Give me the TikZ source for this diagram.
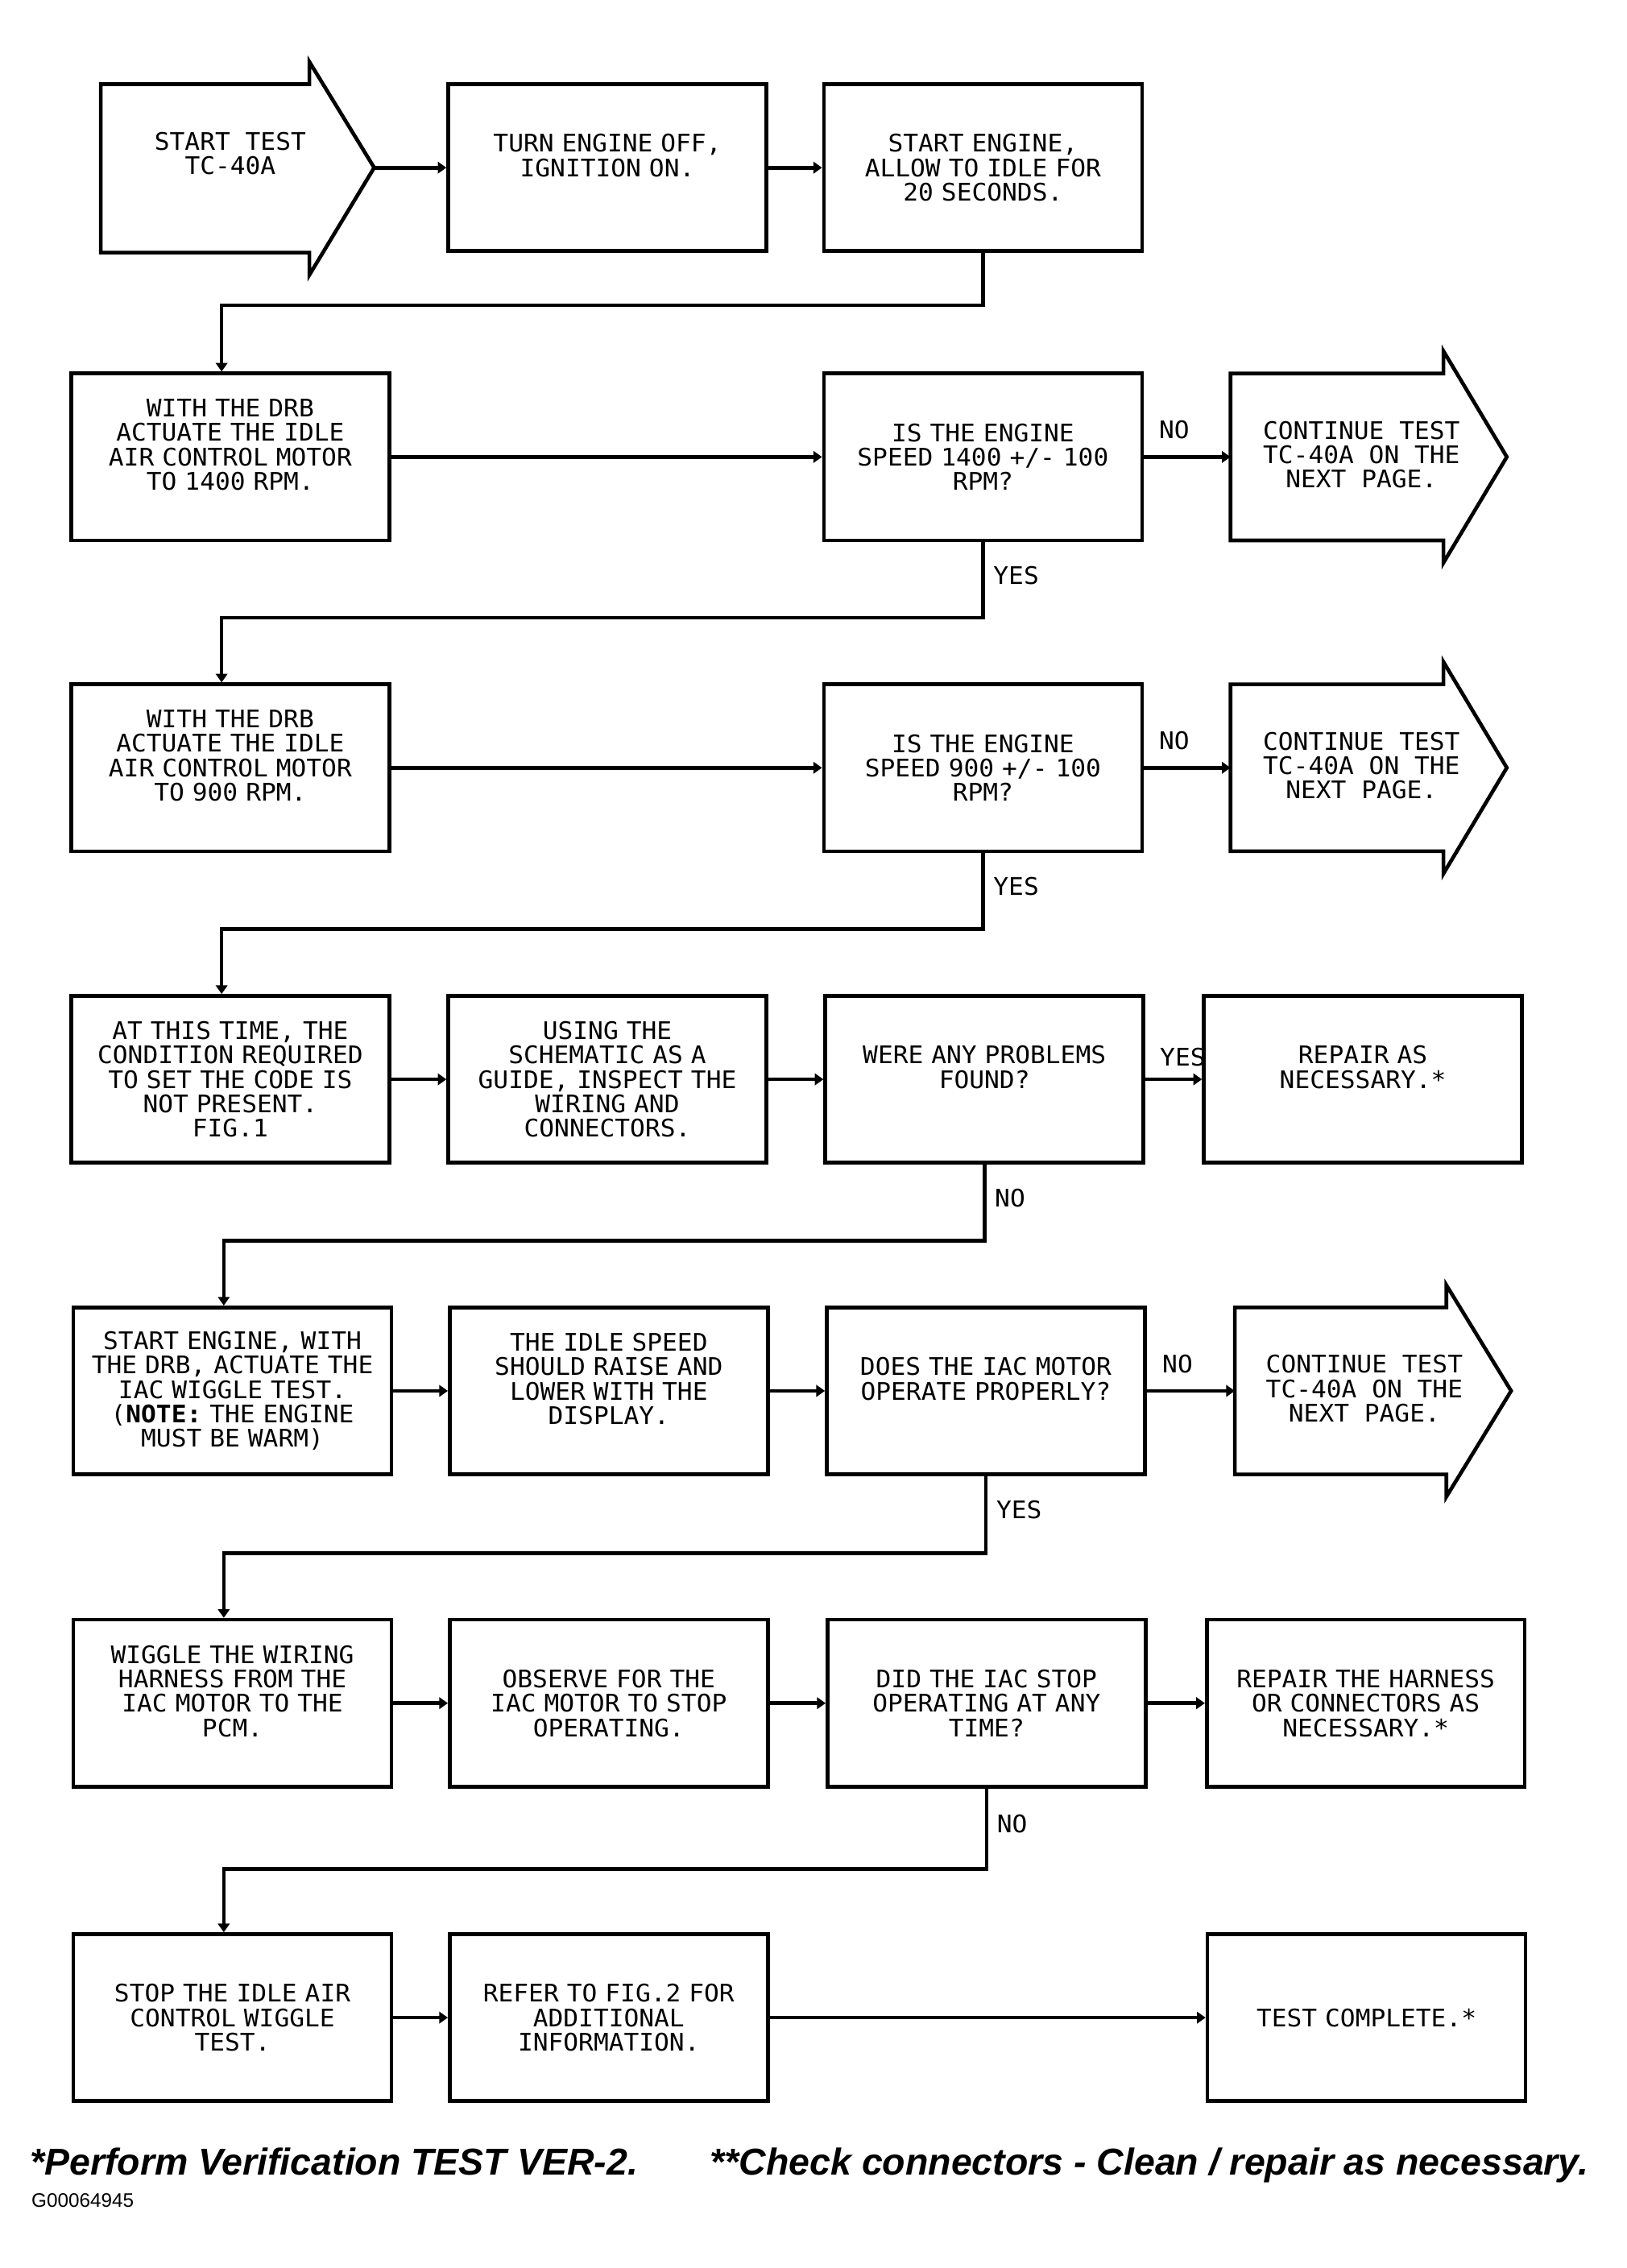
\documentclass[tikz,border=0pt]{standalone}
\usepackage{fontspec}
\setmainfont{DejaVu Sans Mono}[FakeStretch=1.04]
\newfontfamily\footfont{Liberation Sans}
\usetikzlibrary{arrows.meta}

\begin{document}
\begin{tikzpicture}[x=0.5pt,y=-0.5pt,
    every node/.style={font=\fontsize{8.4}{8.5}\selectfont},
    box/.style={draw,line width=1.3pt,minimum width=110.5pt,minimum height=58pt,
        text width=105pt,align=center,inner sep=2pt},
    evenlines/.style={execute at end node={\\\mbox{}}},
    outline/.style={draw,line width=1.3pt,line join=miter},
    words/.style={align=center,inner sep=0pt},
    flow/.style={draw,line width=1.3pt,-{Triangle[length=3pt,width=4pt]}},
    lbl/.style={inner sep=1pt},
    foot/.style={font=\footfont\fontsize{13}{14}\selectfont\bfseries\itshape,inner sep=0pt}]
    \useasboundingbox (0,0) rectangle (1130,1576);
    % row 1
    \coordinate (start) at (260,116.5);
    \draw[outline] (start) -- ++(-45,-73.5) -- ++(0,15.5) -- ++(-145,0) -- ++(0,117)
        -- ++(145,0) -- ++(0,15.5) -- cycle;
    \node[words] (starttxt) at (160,106.5) {START TEST\\TC-40A};
    \node[box,evenlines] (turn) at (422,116.5) {TURN ENGINE OFF,\\IGNITION ON.};
    \node[box] (idle20) at (683,116.5) {START ENGINE,\\ALLOW TO IDLE FOR\\20 SECONDS.};
    \draw[flow] (start) -- (turn.west);
    \draw[flow] (turn.east) -- (idle20.west);
    % row 2
    \node[box,evenlines] (drb1400) at (160,317.5) {WITH THE DRB\\ACTUATE THE IDLE\\AIR CONTROL MOTOR\\TO 1400 RPM.};
    \node[box] (rpm1400) at (683,317.5) {IS THE ENGINE\\SPEED 1400 +/- 100\\RPM?};
    \coordinate (next1) at (855,317.5);
    \draw[outline] (next1) -- ++(0,-58) -- ++(148,0) -- ++(0,-15.5) -- ++(44,73.5)
        -- ++(-44,73.5) -- ++(0,-15.5) -- ++(-148,0) -- cycle;
    \node[words] (next1txt) at (946,316) {CONTINUE TEST\\TC-40A ON THE\\NEXT PAGE.};
    \draw[flow] (idle20.south) |- ([xshift=-3pt,yshift=23pt]drb1400.north) -- ([xshift=-3pt]drb1400.north);
    \draw[flow] (drb1400.east) -- (rpm1400.west);
    \draw[flow] (rpm1400.east) -- node[lbl,above=4.5pt,pos=0.35] {NO} (next1);
    % row 3
    \node[box,evenlines] (drb900) at (160,533.5) {WITH THE DRB\\ACTUATE THE IDLE\\AIR CONTROL MOTOR\\TO 900 RPM.};
    \node[box] (rpm900) at (683,533.5) {IS THE ENGINE\\SPEED 900 +/- 100\\RPM?};
    \coordinate (next2) at (855,533.5);
    \draw[outline] (next2) -- ++(0,-58) -- ++(148,0) -- ++(0,-15.5) -- ++(44,73.5)
        -- ++(-44,73.5) -- ++(0,-15.5) -- ++(-148,0) -- cycle;
    \node[words] (next2txt) at (946,532) {CONTINUE TEST\\TC-40A ON THE\\NEXT PAGE.};
    \draw[flow] (rpm1400.south) |- node[lbl,right=2pt,pos=0.22] {YES} ([xshift=-3pt,yshift=22.5pt]drb900.north) -- ([xshift=-3pt]drb900.north);
    \draw[flow] (drb900.east) -- (rpm900.west);
    \draw[flow] (rpm900.east) -- node[lbl,above=4.5pt,pos=0.35] {NO} (next2);
    % row 4
    \node[box] (cond) at (160,750) {AT THIS TIME, THE\\CONDITION REQUIRED\\TO SET THE CODE IS\\NOT PRESENT.\\FIG.1};
    \node[box] (inspect) at (422,750) {USING THE\\SCHEMATIC AS A\\GUIDE, INSPECT THE\\WIRING AND\\CONNECTORS.};
    \node[box,evenlines] (found) at (684,750) {WERE ANY PROBLEMS\\FOUND?};
    \node[box,evenlines] (repair1) at (947,750) {REPAIR AS\\NECESSARY.*};
    \draw[flow] (rpm900.south) |- node[lbl,right=2pt,pos=0.22] {YES} ([xshift=-3pt,yshift=22.5pt]cond.north) -- ([xshift=-3pt]cond.north);
    \draw[flow] (cond.east) -- (inspect.west);
    \draw[flow] (inspect.east) -- (found.west);
    \draw[flow] (found.east) -- node[lbl,above=3pt,pos=0.66] {YES} (repair1.west);
    % row 5
    \node[box] (wiggle) at (161.5,966.5) {START ENGINE, WITH\\THE DRB, ACTUATE THE\\IAC WIGGLE TEST.\\(\textbf{NOTE:} THE ENGINE\\MUST BE WARM)};
    \node[box,evenlines] (display) at (423,966.5) {THE IDLE SPEED\\SHOULD RAISE AND\\LOWER WITH THE\\DISPLAY.};
    \node[box,evenlines] (iacok) at (685,966.5) {DOES THE IAC MOTOR\\OPERATE PROPERLY?};
    \coordinate (next3) at (858,966.5);
    \draw[outline] (next3) -- ++(0,-58) -- ++(147,0) -- ++(0,-15.5) -- ++(45,73.5)
        -- ++(-45,73.5) -- ++(0,-15.5) -- ++(-147,0) -- cycle;
    \node[words] (next3txt) at (948,965) {CONTINUE TEST\\TC-40A ON THE\\NEXT PAGE.};
    \draw[flow] (found.south) |- node[lbl,right=2pt,pos=0.22] {NO} ([xshift=-3pt,yshift=22.5pt]wiggle.north) -- ([xshift=-3pt]wiggle.north);
    \draw[flow] (wiggle.east) -- (display.west);
    \draw[flow] (display.east) -- (iacok.west);
    \draw[flow] (iacok.east) -- node[lbl,above=4.5pt,pos=0.35] {NO} (next3);
    % row 6
    \node[box,evenlines] (harness) at (161.5,1183.5) {WIGGLE THE WIRING\\HARNESS FROM THE\\IAC MOTOR TO THE\\PCM.};
    \node[box] (observe) at (423,1183.5) {OBSERVE FOR THE\\IAC MOTOR TO STOP\\OPERATING.};
    \node[box] (iacstop) at (685.5,1183.5) {DID THE IAC STOP\\OPERATING AT ANY\\TIME?};
    \node[box] (repair2) at (949,1183.5) {REPAIR THE HARNESS\\OR CONNECTORS AS\\NECESSARY.*};
    \draw[flow] (iacok.south) |- node[lbl,right=2pt,pos=0.22] {YES} ([xshift=-3pt,yshift=22.5pt]harness.north) -- ([xshift=-3pt]harness.north);
    \draw[flow] (harness.east) -- (observe.west);
    \draw[flow] (observe.east) -- (iacstop.west);
    \draw[flow] (iacstop.east) -- (repair2.west);
    % row 7
    \node[box] (stopwig) at (161.5,1402) {STOP THE IDLE AIR\\CONTROL WIGGLE\\TEST.};
    \node[box] (fig2) at (423,1402) {REFER TO FIG.2 FOR\\ADDITIONAL\\INFORMATION.};
    \node[box] (done) at (949.5,1402) {TEST COMPLETE.*};
    \draw[flow] (iacstop.south) |- node[lbl,right=2pt,pos=0.22] {NO} ([xshift=-3pt,yshift=22pt]stopwig.north) -- ([xshift=-3pt]stopwig.north);
    \draw[flow] (stopwig.east) -- (fig2.west);
    \draw[flow] (fig2.east) -- (done.west);
    % footnotes
    \node[foot,anchor=base west] (verify) at (20.5,1511.5) {*Perform Verification TEST VER-2.};
    \node[foot,anchor=base west] (check) at (493,1511.5) {**Check connectors - Clean / repair as necessary.};
    \node[anchor=base west,inner sep=0pt,font=\footfont\fontsize{6.8}{8}\selectfont] (figid) at (21.5,1533.7) {G00064945};
\end{tikzpicture}
\end{document}
